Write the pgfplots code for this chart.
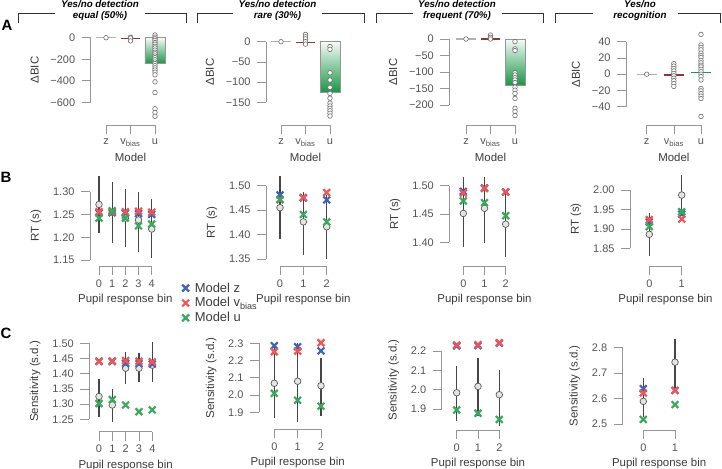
\documentclass[border=0pt]{standalone}
\usepackage{fontspec}
\setmainfont{Liberation Sans}
\usepackage{pgfplots}
\pgfplotsset{compat=1.18}

\definecolor{axgray}{RGB}{150,150,150}
\definecolor{tickgray}{RGB}{85,85,85}
\definecolor{labgray}{RGB}{60,60,60}
\definecolor{dotgray}{RGB}{110,110,110}
\definecolor{zcol}{RGB}{65,100,185}
\definecolor{vcol}{RGB}{240,85,85}
\definecolor{ucol}{RGB}{60,168,92}
\definecolor{bartop}{RGB}{245,251,247}
\definecolor{barbot}{RGB}{25,150,70}
\definecolor{vmean}{RGB}{145,55,55}
\definecolor{umean}{RGB}{40,150,80}
\definecolor{errcol}{RGB}{70,70,70}
\definecolor{meanfill}{RGB}{228,228,228}
\definecolor{meandraw}{RGB}{90,90,90}

\pgfplotsset{
  rf/.style={scale only axis, clip=false, anchor=south west,
    axis x line*=bottom, axis y line*=left,
    axis line style={axgray, line width=0.7bp},
    tick align=outside, major tick length=9bp,
    tick style={axgray, line width=0.7bp},
    ticklabel style={font=\fontsize{11}{12}\selectfont, text=tickgray},
    yticklabel style={xshift=-3bp},
    xticklabel style={yshift=-1bp},
    label style={font=\fontsize{11.5}{12}\selectfont, text=labgray},
    ylabel shift=5bp,
  },
  modelx/.style={xmin=0, xmax=2, xtick={0,1,2}, xticklabels={z,{v\textsubscript{bias}},u}, xlabel={Model}, ylabel={ΔBIC}},
  pupil/.style={xlabel={Pupil response bin}},
  dots/.style={only marks, mark=*, mark size=2.3bp, mark options={fill=white, draw=dotgray, line width=0.6bp}},
  ubar/.style={ybar, bar width=20bp, draw=axgray, line width=0.5bp, top color=bartop, bottom color=barbot},
  zline/.style={no marks, gray!60, line width=1.1bp},
  vline/.style={no marks, vmean, line width=1.1bp},
  uline/.style={no marks, umean, line width=1.1bp},
  obs/.style={only marks, mark=*, mark size=3.3bp, mark options={fill=meanfill, draw=meandraw, line width=0.7bp}, forget plot,
    error bars/y dir=both, error bars/y explicit, error bars/error mark=none,
    error bars/error bar style={errcol, line width=1.2bp}},
  mz/.style={only marks, mark=x, mark size=4.8bp, zcol, mark options={line width=2.2bp}},
  mv/.style={only marks, mark=x, mark size=4.8bp, vcol, mark options={line width=2.2bp}},
  mu/.style={only marks, mark=x, mark size=4.8bp, ucol, mark options={line width=2.2bp}},
}

\begin{document}
\begin{tikzpicture}
\useasboundingbox (0bp,0bp) rectangle (722bp,469bp);

% ---------------- row A ----------------
\begin{axis}[rf, modelx, at={(106bp,366.7bp)}, width=49bp, height=64.6bp,
  axis x line shift=22.7bp, axis y line shift=15.3bp,
  ymin=-600, ymax=0, ytick={-600,-400,-200,0}, yticklabels={−600,−400,−200,0}]
\addplot[ubar] coordinates {(2,-240)};
\addplot[zline] coordinates {(-0.4,0) (0.4,0)};
\addplot[vline] coordinates {(0.6,-5) (1.4,-5)};
\addplot[dots] coordinates {(0,0)};
\addplot[dots] coordinates {(1,5) (1,0) (1,-3) (1,-30)};
\addplot[dots] coordinates {(2,25) (2,5) (2,-10) (2,-25) (2,-45) (2,-60) (2,-80) (2,-95)
  (2,-115) (2,-135) (2,-150) (2,-170) (2,-185) (2,-205) (2,-225) (2,-240) (2,-260)
  (2,-280) (2,-300) (2,-320) (2,-345) (2,-410) (2,-510) (2,-660) (2,-695) (2,-730)};
\end{axis}

\begin{axis}[rf, modelx, at={(281bp,366.7bp)}, width=49bp, height=60.6bp,
  axis x line shift=22.7bp, axis y line shift=15bp,
  ymin=-150, ymax=0, ytick={-150,-100,-50,0}, yticklabels={−150,−100,−50,0}]
\addplot[ubar] coordinates {(2,-125)};
\addplot[zline] coordinates {(-0.4,0) (0.4,0)};
\addplot[vline] coordinates {(0.6,-1) (1.4,-1)};
\addplot[dots] coordinates {(0,0)};
\addplot[dots] coordinates {(1,18) (1,12) (1,7) (1,0) (1,-6)};
\addplot[dots] coordinates {(2,-12) (2,-19) (2,-77) (2,-95) (2,-113) (2,-128) (2,-140)
  (2,-152) (2,-159) (2,-165) (2,-171) (2,-177) (2,-184)};
\end{axis}

\begin{axis}[rf, modelx, at={(466bp,364bp)}, width=49bp, height=66bp,
  axis x line shift=20bp, axis y line shift=16.7bp,
  ymin=-200, ymax=0, ytick={-200,-150,-100,-50,0}, yticklabels={−200,−150,−100,−50,0}]
\addplot[ubar] coordinates {(2,-140)};
\addplot[zline] coordinates {(-0.4,0) (0.4,0)};
\addplot[vline] coordinates {(0.6,0) (1.4,0)};
\addplot[dots] coordinates {(0,0)};
\addplot[dots] coordinates {(1,12) (1,5) (1,0)};
\addplot[dots] coordinates {(2,-8) (2,-30) (2,-35) (2,-102) (2,-109) (2,-117) (2,-124)
  (2,-132) (2,-146) (2,-155) (2,-165) (2,-180) (2,-210) (2,-220) (2,-232)};
\end{axis}

\begin{axis}[rf, modelx, at={(646.7bp,362.3bp)}, width=54.3bp, height=65bp,
  axis x line shift=18.3bp, axis y line shift=20.7bp,
  ymin=-40, ymax=40, ytick={-40,-20,0,20,40}, yticklabels={−40,−20,0,20,40}]
\addplot[zline] coordinates {(-0.37,0) (0.37,0)};
\addplot[vline] coordinates {(0.63,-1) (1.37,-1)};
\addplot[uline] coordinates {(1.63,2) (2.37,2)};
\addplot[dots] coordinates {(0,0)};
\addplot[dots] coordinates {(1,13) (1,10) (1,7) (1,4) (1,1) (1,-2) (1,-5) (1,-8) (1,-11.5) (1,-15)};
\addplot[dots] coordinates {(2,49) (2,36) (2,33) (2,30) (2,26) (2,23) (2,20.5) (2,17) (2,14)
  (2,11) (2,9) (2,6) (2,3) (2,0) (2,-3) (2,-7) (2,-17.6) (2,-20.5) (2,-24) (2,-27) (2,-30) (2,-52)};
\end{axis}

% ---------------- row B ----------------
\begin{axis}[rf, pupil, at={(99bp,209bp)}, width=52.7bp, height=68.3bp,
  axis x line shift=6bp, axis y line shift=9bp,
  xmin=0, xmax=4, xtick={0,1,2,3,4}, xticklabels={0,1,2,3,4},
  ymin=1.15, ymax=1.30, ytick={1.15,1.20,1.25,1.30}, yticklabels={1.15,1.20,1.25,1.30},
  ylabel={RT (s)},
  legend style={at={(1.575,-0.300)}, anchor=north west, draw=none, fill=none,
    font=\fontsize{13}{14}\selectfont, text=labgray, inner sep=0pt, row sep=0pt},
  legend cell align=left,
  legend image code/.code={\draw[#1] plot coordinates {(0bp,0bp)}; \path (7bp,0bp);}]
\addplot[obs] coordinates {(0,1.272) += (0,0.062) -= (0,0.063) (1,1.255) += (0,0.067) -= (0,0.068)
  (2,1.242) += (0,0.063) -= (0,0.064) (3,1.238) += (0,0.061) -= (0,0.070) (4,1.218) += (0,0.065) -= (0,0.064)};
\addplot[mz] coordinates {(0,1.253) (1,1.254) (2,1.253) (3,1.252) (4,1.250)};
\addplot[mv] coordinates {(0,1.256) (1,1.256) (2,1.256) (3,1.257) (4,1.255)};
\addplot[mu] coordinates {(0,1.242) (1,1.258) (2,1.242) (3,1.225) (4,1.229)};
\legend{Model z, Model v\textsubscript{bias}, Model u}
\end{axis}

\begin{axis}[rf, pupil, at={(280bp,210bp)}, width=46.7bp, height=73.3bp,
  axis x line shift=7bp, axis y line shift=14bp,
  xmin=0, xmax=2, xtick={0,1,2}, xticklabels={0,1,2},
  ymin=1.35, ymax=1.50, ytick={1.35,1.40,1.45,1.50}, yticklabels={1.35,1.40,1.45,1.50},
  ylabel={RT (s)}]
\addplot[obs] coordinates {(0,1.455) += (0,0.065) -= (0,0.065) (1,1.426) += (0,0.062) -= (0,0.068)
  (2,1.416) += (0,0.064) -= (0,0.065)};
\addplot[mz] coordinates {(0,1.481) (1,1.475) (2,1.471)};
\addplot[mv] coordinates {(0,1.471) (1,1.476) (2,1.486)};
\addplot[mu] coordinates {(0,1.472) (1,1.441) (2,1.426)};
\end{axis}

\begin{axis}[rf, pupil, at={(463.3bp,226.7bp)}, width=42.4bp, height=56.6bp,
  axis x line shift=23.7bp, axis y line shift=14bp,
  xmin=0, xmax=2, xtick={0,1,2}, xticklabels={0,1,2},
  ymin=1.40, ymax=1.50, ytick={1.40,1.45,1.50}, yticklabels={1.40,1.45,1.50},
  ylabel={RT (s)}]
\addplot[obs] coordinates {(0,1.451) += (0,0.064) -= (0,0.060) (1,1.460) += (0,0.056) -= (0,0.061)
  (2,1.432) += (0,0.058) -= (0,0.058)};
\addplot[mz] coordinates {(0,1.490) (1,1.496) (2,1.489)};
\addplot[mv] coordinates {(0,1.487) (1,1.495) (2,1.489)};
\addplot[mu] coordinates {(0,1.473) (1,1.470) (2,1.447)};
\end{axis}

\begin{axis}[rf, pupil, at={(649.3bp,220.7bp)}, width=32.4bp, height=58.3bp,
  axis x line shift=17.7bp, axis y line shift=19.3bp,
  xmin=0, xmax=1, xtick={0,1}, xticklabels={0,1},
  ymin=1.85, ymax=2.00, ytick={1.85,1.90,1.95,2.00}, yticklabels={1.85,1.90,1.95,2.00},
  ylabel={RT (s)}]
\addplot[obs] coordinates {(0,1.886) += (0,0.056) -= (0,0.057) (1,1.987) += (0,0.052) -= (0,0.055)};
\addplot[mz] coordinates {(0,1.918) (1,1.938)};
\addplot[mv] coordinates {(0,1.924) (1,1.925)};
\addplot[mu] coordinates {(0,1.906) (1,1.944)};
\end{axis}

% ---------------- row C ----------------
\begin{axis}[rf, pupil, at={(99bp,49.7bp)}, width=53.3bp, height=76bp,
  axis x line shift=12.4bp, axis y line shift=9.7bp,
  xmin=0, xmax=4, xtick={0,1,2,3,4}, xticklabels={0,1,2,3,4},
  ymin=1.25, ymax=1.50, ytick={1.25,1.30,1.35,1.40,1.45,1.50},
  yticklabels={1.25,1.30,1.35,1.40,1.45,1.50},
  ylabel={Sensitivity (s.d.)}]
\addplot[obs] coordinates {(0,1.325) += (0,0.056) -= (0,0.067) (1,1.297) += (0,0.053) -= (0,0.057)
  (2,1.418) += (0,0.054) -= (0,0.052) (3,1.418) += (0,0.051) -= (0,0.044) (4,1.428) += (0,0.077) -= (0,0.054)};
\addplot[mz] coordinates {(0,1.441) (1,1.440) (2,1.434) (3,1.433) (4,1.432)};
\addplot[mv] coordinates {(0,1.441) (1,1.442) (2,1.443) (3,1.441) (4,1.439)};
\addplot[mu] coordinates {(0,1.302) (1,1.315) (2,1.297) (3,1.275) (4,1.281)};
\end{axis}

\begin{axis}[rf, pupil, at={(274.3bp,56.7bp)}, width=46.7bp, height=69bp,
  axis x line shift=17bp, axis y line shift=15.3bp,
  xmin=0, xmax=2, xtick={0,1,2}, xticklabels={0,1,2},
  ymin=1.9, ymax=2.3, ytick={1.9,2.0,2.1,2.2,2.3}, yticklabels={1.9,2.0,2.1,2.2,2.3},
  ylabel={Sensitivity (s.d.)}]
\addplot[obs] coordinates {(0,2.068) += (0,0.210) -= (0,0.203) (1,2.080) += (0,0.220) -= (0,0.235)
  (2,2.054) += (0,0.161) -= (0,0.174)};
\addplot[mz] coordinates {(0,2.286) (1,2.280) (2,2.256)};
\addplot[mv] coordinates {(0,2.251) (1,2.255) (2,2.303)};
\addplot[mu] coordinates {(0,2.010) (1,1.970) (2,1.936)};
\end{axis}

\begin{axis}[rf, pupil, at={(456.7bp,60bp)}, width=42.6bp, height=58bp,
  axis x line shift=21bp, axis y line shift=15bp,
  xmin=0, xmax=2, xtick={0,1,2}, xticklabels={0,1,2},
  ymin=1.9, ymax=2.2, ytick={1.9,2.0,2.1,2.2}, yticklabels={1.9,2.0,2.1,2.2},
  ylabel={Sensitivity (s.d.)}]
\addplot[obs] coordinates {(0,1.984) += (0,0.138) -= (0,0.148) (1,2.017) += (0,0.145) -= (0,0.155)
  (2,1.974) += (0,0.126) -= (0,0.164)};
\addplot[mz] coordinates {(0,2.226) (1,2.228) (2,2.240)};
\addplot[mv] coordinates {(0,2.231) (1,2.233) (2,2.243)};
\addplot[mu] coordinates {(0,1.895) (1,1.878) (2,1.846)};
\end{axis}

\begin{axis}[rf, pupil, at={(643.3bp,45bp)}, width=31.7bp, height=76.3bp,
  axis x line shift=6bp, axis y line shift=20.6bp,
  xmin=0, xmax=1, xtick={0,1}, xticklabels={0,1},
  ymin=2.5, ymax=2.8, ytick={2.5,2.6,2.7,2.8}, yticklabels={2.5,2.6,2.7,2.8},
  ylabel={Sensitivity (s.d.)}]
\addplot[obs] coordinates {(0,2.589) += (0,0.090) -= (0,0.060) (1,2.743) += (0,0.090) -= (0,0.100)};
\addplot[mz] coordinates {(0,2.639) (1,2.632)};
\addplot[mv] coordinates {(0,2.622) (1,2.632)};
\addplot[mu] coordinates {(0,2.518) (1,2.576)};
\end{axis}

% ---------------- headings ----------------
\tikzset{brk/.style={draw=black!80, line width=0.7bp},
  ttl/.style={font=\bfseries\itshape\fontsize{9.8}{10.5}\selectfont, align=center},
  pl/.style={font=\bfseries\fontsize{15}{15}\selectfont}}
\draw[brk] (18bp,446bp) -- (18bp,456bp) -- (55bp,456bp);
\draw[brk] (145bp,456bp) -- (186bp,456bp) -- (186bp,446bp);
\draw[brk] (197bp,446bp) -- (197bp,456bp) -- (233bp,456bp);
\draw[brk] (322bp,456bp) -- (364bp,456bp) -- (364bp,446bp);
\draw[brk] (376bp,446bp) -- (376bp,456bp) -- (413bp,456bp);
\draw[brk] (502bp,456bp) -- (543bp,456bp) -- (543bp,446bp);
\draw[brk] (555bp,446bp) -- (555bp,456bp) -- (593bp,456bp);
\draw[brk] (678bp,456bp) -- (720bp,456bp) -- (720bp,446bp);
\node[ttl] at (100bp,458.5bp) {Yes/no detection\\equal (50\%)};
\node[ttl] at (277.5bp,458.5bp) {Yes/no detection\\rare (30\%)};
\node[ttl] at (457bp,458.5bp) {Yes/no detection\\frequent (70\%)};
\node[ttl] at (640bp,458.5bp) {Yes/no\\recognition};
\node[pl] at (7bp,444bp) {A};
\node[pl] at (6bp,292bp) {B};
\node[pl] at (6bp,136bp) {C};
\end{tikzpicture}
\end{document}
